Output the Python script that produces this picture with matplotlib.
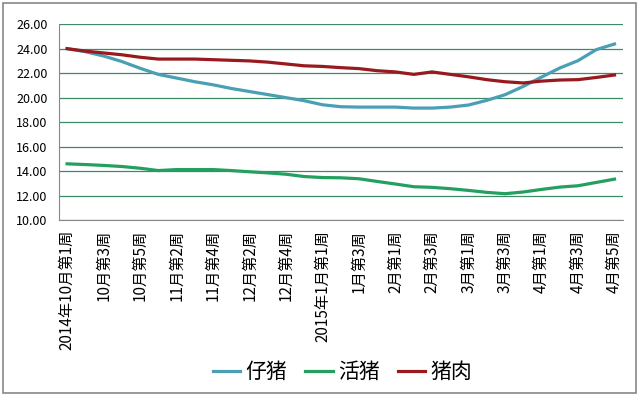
import matplotlib
matplotlib.use("Agg")
import matplotlib.pyplot as plt
from matplotlib.patches import Rectangle
import numpy as np

plt.rcParams["font.family"] = ["Noto Sans CJK SC", "DejaVu Sans"]

# 周次：2014年10月第1周 ~ 2015年4月第5周
months = [("2014年10月", 5), ("11月", 4), ("12月", 5), ("2015年1月", 4),
          ("2月", 4), ("3月", 4), ("4月", 5)]
weeks = []
for m, n in months:
    for k in range(1, n + 1):
        name = m if k == 1 else m.split("年")[-1]
        weeks.append(f"{name}第{k}周")

# 仔猪
piglet = [24.0, 23.75, 23.4, 22.95, 22.4, 21.9, 21.6, 21.3, 21.05, 20.75,
          20.5, 20.25, 20.0, 19.75, 19.42, 19.26, 19.23, 19.23, 19.23, 19.15,
          19.15, 19.23, 19.4, 19.78, 20.24, 20.92, 21.68, 22.42, 23.02, 23.92,
          24.38]
# 活猪
live_pig = [14.6, 14.54, 14.47, 14.38, 14.24, 14.05, 14.13, 14.13, 14.13, 14.05,
            13.95, 13.86, 13.75, 13.56, 13.48, 13.46, 13.38, 13.16, 12.95, 12.73,
            12.68, 12.57, 12.43, 12.27, 12.16, 12.3, 12.51, 12.7, 12.81, 13.08,
            13.35]
# 猪肉
pork = [24.0, 23.8, 23.65, 23.5, 23.3, 23.15, 23.15, 23.15, 23.1, 23.05,
        23.0, 22.9, 22.75, 22.6, 22.55, 22.45, 22.37, 22.2, 22.1, 21.9,
        22.1, 21.9, 21.7, 21.47, 21.3, 21.2, 21.35, 21.44, 21.47, 21.65,
        21.85]

x = np.arange(len(weeks))

fig = plt.figure(figsize=(6.4, 3.96), dpi=100)
ax = fig.add_axes([0.092, 0.444, 0.881, 0.495])

ax.plot(x, piglet, color="#4a9fb5", linewidth=2.3, label="仔猪")
ax.plot(x, live_pig, color="#23a05f", linewidth=2.3, label="活猪")
ax.plot(x, pork, color="#991a1e", linewidth=2.3, label="猪肉")

ax.set_ylim(10, 26)
ax.set_yticks(np.arange(10, 27, 2))
ax.set_yticklabels([f"{v:.2f}" for v in np.arange(10, 27, 2)], fontsize=9)
ax.yaxis.grid(True, color="#3d8a68", linewidth=0.9)
ax.set_axisbelow(True)

ax.set_xlim(-0.45, len(weeks) - 0.55)
ax.set_xticks(x[::2])
ax.set_xticklabels(weeks[::2], rotation=90, fontsize=11)
ax.tick_params(axis="x", length=0, pad=7)
ax.tick_params(axis="y", length=0, pad=8)

for s in ["top", "right"]:
    ax.spines[s].set_visible(False)
ax.spines["left"].set_color("#888888")
ax.spines["bottom"].set_color("#888888")

ax.legend(loc="center", bbox_to_anchor=(0.503, -0.776), ncol=3, frameon=False,
          fontsize=15, handlelength=1.3, handletextpad=0.25, columnspacing=0.9)

fig.patches.append(Rectangle((0.004, 0.008), 0.99, 0.985, transform=fig.transFigure,
                             fill=False, edgecolor="#888888", linewidth=1.2))

fig.savefig("out.png", dpi=100)
